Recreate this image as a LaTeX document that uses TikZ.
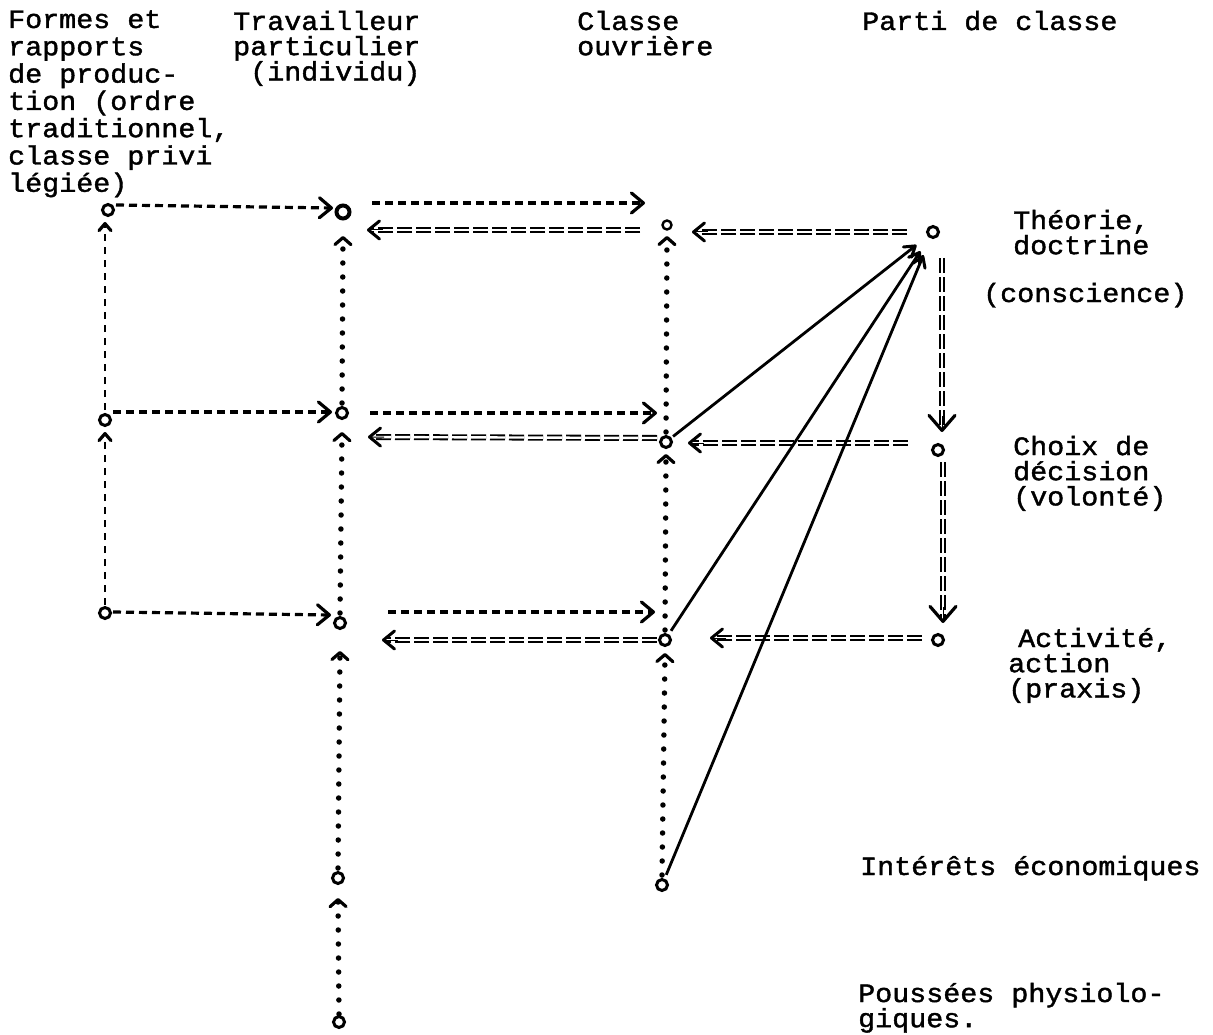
\documentclass[tikz,border=0pt]{standalone}
\usepackage{fontspec}
\newfontfamily\tw[FakeBold=1.5,FakeStretch=1.07]{Liberation Mono}
\usetikzlibrary{arrows.meta,calc}
\tikzset{
  pt/.style={circle, draw, line width=3pt, minimum size=11pt, inner sep=0pt},
  dsh/.style={line width=3.2pt, dash pattern=on 8pt off 5pt,
    -{Straight Barb[length=12pt,width=20pt,line width=3.2pt,round]}},
  vdsh/.style={line width=2.6pt, dash pattern=on 7pt off 6pt,
    -{Straight Barb[length=7pt,width=12pt,line width=3.2pt,round]}},
  dbl/.style={double, line width=1.8pt, double distance=2.4pt, dash pattern=on 15pt off 4pt, shorten >=3pt},
  dtip/.style={line width=1pt, -{Straight Barb[length=11pt,width=18pt,line width=3pt,round]}},
  vtip/.style={line width=1pt, -{Straight Barb[length=15pt,width=26pt,line width=3.2pt,round]}},
  dotl/.style={line width=5.5pt, line cap=round, dash pattern=on 0pt off 14pt,
    -{Straight Barb[length=7pt,width=16pt,line width=3.2pt,round]}},
  sol/.style={line width=2.8pt, -{Straight Barb[length=10pt,width=13pt,line width=3pt,round]}},
  lab/.style={font=\fontsize{26.5}{25.2}\selectfont\tw, anchor=base west, align=left, inner sep=0pt},
  labwide/.style={lab, font=\fontsize{26.5}{27.3}\selectfont\tw},
}
\newcommand\dblarr[3][dtip]{\draw[dbl] (#2) -- (#3); \draw[#1] ($(#3)!16pt!(#2)$) -- (#3);}
\begin{document}
\begin{tikzpicture}[x=1pt,y=-1pt]
\useasboundingbox (0,0) rectangle (1213,1035);
\fill[white] (0,0) rectangle (1213,1035);

% points
\node[pt] (a1) at (108,210) {};
\node[pt] (a2) at (105,420) {};
\node[pt] (a3) at (105,613) {};
\node[pt, line width=4pt, minimum size=13pt] (b1) at (343,212) {};
\node[pt] (b2) at (342,413) {};
\node[pt] (b3) at (340,623) {};
\node[pt] (b4) at (338,878) {};
\node[pt] (b5) at (339,1022) {};
\node[pt, line width=2.4pt, minimum size=9pt] (c1) at (667,225) {};
\node[pt] (c2) at (666,442) {};
\node[pt] (c3) at (665,640) {};
\node[pt] (c4) at (662,885) {};
\node[pt] (d1) at (933,232) {};
\node[pt] (d2) at (938,450) {};
\node[pt] (d3) at (938,640) {};

% labels (base = baseline of the last line)
\node[labwide] (tforms) at (8,191.8) {Formes et\\rapports\\de produc-\\tion (ordre\\traditionnel,\\classe privi\\légiée)};
\node[lab] (ttrav) at (233,80.4) {Travailleur\\particulier\\\phantom{x}(individu)};
\node[lab] (tclas) at (577,55.2) {Classe\\ouvrière};
\node[lab] (tpart) at (862,30) {Parti de classe};
\node[lab] (tthe) at (1013,254.2) {Théorie,\\doctrine};
\node[lab] (tcons) at (983,302) {(conscience)};
\node[lab] (tchoix) at (1013,505.4) {Choix de\\décision\\(volonté)};
\node[lab] (tact) at (1008,697.4) {\hspace*{10pt}Activité,\\action\\(praxis)};
\node[lab] (tint) at (860,875) {Intérêts économiques};
\node[lab] (tpous) at (858,1027.2) {Poussées physiolo-\\giques.};

% end points
\coordinate (ab1s) at ($(a1)+(8,-5)$);   \coordinate (ab1e) at ($(b1)+(-10,-4)$);
\coordinate (bc1s) at ($(b1)+(29,-9)$);  \coordinate (bc1e) at ($(c1)+(-22,-22)$);
\coordinate (cb1s) at ($(c1)+(-27,5)$);  \coordinate (cb1e) at ($(b1)+(24,18)$);
\coordinate (dc1s) at ($(d1)+(-26,0)$);  \coordinate (dc1e) at ($(c1)+(25,7)$);
\coordinate (dd1s) at ($(d1)+(9,26)$);   \coordinate (dd1e) at ($(d2)+(4,-18)$);
\coordinate (dd2s) at ($(d2)+(5,12)$);   \coordinate (dd2e) at ($(d3)+(5,-17)$);
\coordinate (ab2s) at ($(a2)+(8,-8)$);   \coordinate (ab2e) at ($(b2)+(-10,-1)$);
\coordinate (bc2s) at ($(b2)+(28,0)$);   \coordinate (bc2e) at ($(c2)+(-9,-29)$);
\coordinate (cb2s) at ($(c2)+(-9,-4)$);  \coordinate (cb2e) at ($(b2)+(26,24)$);
\coordinate (dc2s) at ($(d2)+(-30,-7)$); \coordinate (dc2e) at ($(c2)+(22,1)$);
\coordinate (ab3s) at ($(a3)+(8,-1)$);   \coordinate (ab3e) at ($(b3)+(-9,-8)$);
\coordinate (bc3s) at ($(b3)+(48,-11)$); \coordinate (bc3e) at ($(c3)+(-10,-28)$);
\coordinate (cb3s) at ($(c3)+(-8,0)$);   \coordinate (cb3e) at ($(b3)+(42,17)$);
\coordinate (dc3s) at ($(d3)+(-16,-2)$); \coordinate (dc3e) at ($(c3)+(45,-2)$);

% dashed single arrows
\draw[dsh] (ab1s) -- (ab1e);
\draw[dsh] (bc1s) -- (bc1e);
\draw[dsh] (ab2s) -- (ab2e);
\draw[dsh] (bc2s) -- (bc2e);
\draw[dsh] (ab3s) -- (ab3e);
\draw[dsh] (bc3s) -- (bc3e);
\draw[vdsh] ($(a2)+(0,-10)$) -- ($(a1)+(-3,12)$);
\draw[vdsh] ($(a3)+(0,-8)$) -- ($(a2)+(0,12)$);

% double dashed arrows
\dblarr{cb1s}{cb1e}
\dblarr{dc1s}{dc1e}
\dblarr{cb2s}{cb2e}
\dblarr{dc2s}{dc2e}
\dblarr{cb3s}{cb3e}
\dblarr{dc3s}{dc3e}
\dblarr[vtip]{dd1s}{dd1e}
\dblarr[vtip]{dd2s}{dd2e}

% dotted arrows
\draw[dotl] ($(b2)+(0,-10)$) -- ($(b1)+(0,24)$);
\draw[dotl] ($(b3)+(0,-10)$) -- ($(b2)+(0,19)$);
\draw[dotl] ($(b4)+(0,-10)$) -- ($(b3)+(0,28)$);
\draw[dotl] ($(b5)+(0,-8)$) -- ($(b4)+(0,20)$);
\draw[dotl] ($(c2)+(0,-10)$) -- ($(c1)+(0,11)$);
\draw[dotl] ($(c3)+(0,-10)$) -- ($(c2)+(0,12)$);
\draw[dotl] ($(c4)+(0,-10)$) -- ($(c3)+(0,13)$);

% solid arrows
\draw[sol, shorten <=2pt, shorten >=14pt] (c2) -- (d1);
\draw[sol, shorten <=4pt, shorten >=16pt] (c3) -- (d1);
\draw[sol, shorten <=4pt, shorten >=18pt] (c4) -- (d1);
\end{tikzpicture}
\end{document}
